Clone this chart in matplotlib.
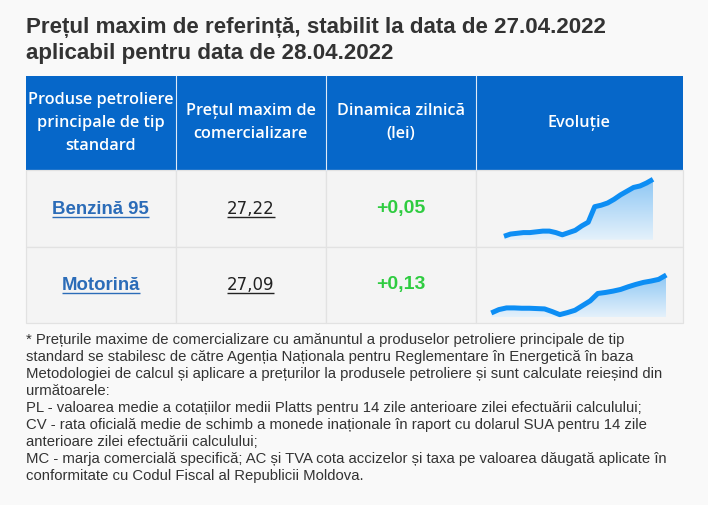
import matplotlib
matplotlib.use("Agg")
import matplotlib.pyplot as plt
import numpy as np
from matplotlib.patches import Rectangle
from matplotlib.colors import LinearSegmentedColormap

# data
title_lines = ["Prețul maxim de referință, stabilit la data de 27.04.2022",
               "aplicabil pentru data de 28.04.2022"]
headers = [["Produse petroliere", "principale de tip", "standard"],
           ["Prețul maxim de", "comercializare"],
           ["Dinamica zilnică", "(lei)"],
           ["Evoluție"]]
products = ["Benzină 95", "Motorină"]
prices = ["27,22", "27,09"]
changes = ["+0,05", "+0,13"]
benzina_hist = [26.45, 26.48, 26.49, 26.50, 26.50, 26.51, 26.52, 26.52, 26.50, 26.47,
                26.50, 26.53, 26.59, 26.64, 26.85, 26.87, 26.90, 26.95, 27.01, 27.06,
                27.11, 27.13, 27.17, 27.22]
motorina_hist = [25.96, 26.06, 26.11, 26.11, 26.10, 26.10, 26.09, 26.08, 26.00, 25.91,
                 25.97, 26.04, 26.18, 26.32, 26.54, 26.57, 26.61, 26.66, 26.74, 26.81,
                 26.87, 26.91, 26.96, 27.09]
footnote = [
    "* Prețurile maxime de comercializare cu amănuntul a produselor petroliere principale de tip",
    "standard se stabilesc de către Agenția Naționala pentru Reglementare în Energetică în baza",
    "Metodologiei de calcul și aplicare a prețurilor la produsele petroliere și sunt calculate reieșind din",
    "următoarele:",
    "PL - valoarea medie a cotațiilor medii Platts pentru 14 zile anterioare zilei efectuării calculului;",
    "CV - rata oficială medie de schimb a monede inaționale în raport cu dolarul SUA pentru 14 zile",
    "anterioare zilei efectuării calculului;",
    "MC - marja comercială specifică; AC și TVA cota accizelor și taxa pe valoarea dăugată aplicate în",
    "conformitate cu Codul Fiscal al Republicii Moldova.",
]

W, H = 708, 505
fig = plt.figure(figsize=(W / 100, H / 100), dpi=100, facecolor="#f9f9f9")
ax = fig.add_axes([0, 0, 1, 1])
ax.set_xlim(0, W)
ax.set_ylim(H, 0)
ax.axis("off")
renderer = fig.canvas.get_renderer()


def put(x, y, s, width=None, size=10, **kw):
    t = ax.text(x, y, s, fontsize=size, **kw)
    if width:
        w = t.get_window_extent(renderer).width
        t.set_fontsize(size * width / w)
    return t


def underline(t, dy, color):
    bb = t.get_window_extent(renderer)
    inv = ax.transData.inverted()
    (x0, _), (x1, _) = inv.transform([(bb.x0, bb.y0), (bb.x1, bb.y0)])
    y = t.get_position()[1] + dy
    ax.plot([x0, x1], [y, y], color=color, lw=1.0, solid_capstyle="butt")


# title
t = put(26, 28, title_lines[0], width=583, family="Liberation Sans",
        weight="bold", color="#333333", va="center")
tsize = t.get_fontsize()
put(26, 53, title_lines[1], size=tsize, family="Liberation Sans",
    weight="bold", color="#333333", va="center")

# table geometry
cols = [26, 175.7, 325.7, 475.7, 683]
rows = [76, 170, 247, 323]
head_bg = "#0667c9"
cell_bg = "#f4f4f4"
grid_c = "#e2e2e2"

ax.add_patch(Rectangle((cols[0], rows[0]), cols[-1] - cols[0], rows[1] - rows[0],
                       facecolor=head_bg, edgecolor="none"))
for c in cols[1:-1]:
    ax.plot([c, c], [rows[0], rows[1]], color="#dfe9f6", lw=0.8)
for r in range(2):
    for c in range(4):
        ax.add_patch(Rectangle((cols[c], rows[r + 1]), cols[c + 1] - cols[c],
                               rows[r + 2] - rows[r + 1], facecolor=cell_bg,
                               edgecolor=grid_c, lw=0.9))

# header text
centers = [(cols[i] + cols[i + 1]) / 2 for i in range(4)]
hfont = dict(family="Open Sans", weight="semibold", color="white", ha="center", va="center")
ht = put(centers[0], 99.5, headers[0][0], width=146, **hfont)
hsize = ht.get_fontsize()
line_h = 23.3
for i, lines in enumerate(headers):
    n = len(lines)
    mid = 122.7
    for j, s in enumerate(lines):
        if i == 0 and j == 0:
            continue
        put(centers[i], mid + (j - (n - 1) / 2) * line_h, s, size=hsize, **hfont)

# body rows
row_y = [209, 285]
psize = None
for r in range(2):
    kw = dict(family="Liberation Sans", weight="bold", color="#2b6cb8", ha="center", va="center")
    if psize is None:
        t = put(centers[0], row_y[r], products[r], width=97.6, **kw)
        psize = t.get_fontsize()
    else:
        t = put(centers[0], row_y[r], products[r], size=psize, **kw)
    underline(t, 8, "#2b6cb8")

    t = put(centers[1], row_y[r], prices[r], size=psize * 1.02, family="DejaVu Sans",
            color="#222222", ha="center", va="center")
    if r == 0:
        t.set_fontsize(t.get_fontsize() * 47.3 / t.get_window_extent(renderer).width)
        prsize = t.get_fontsize()
    else:
        t.set_fontsize(prsize)
    underline(t, 8, "#222222")

    put(centers[2], row_y[r], changes[r], size=psize * 1.04, family="Liberation Sans",
        weight="bold", color="#2ecc40", ha="center", va="center")

# sparklines
grad_cmap = LinearSegmentedColormap.from_list("g", ["#e4f1fb", "#8ec7f4"])
spark = [(benzina_hist, 504, 653, 179.3, 239.7),
         (motorina_hist, 491.3, 666.3, 275, 317)]
for vals, x0, x1, ytop, ybot in spark:
    sax = fig.add_axes([x0 / W, 1 - ybot / H, (x1 - x0) / W, (ybot - ytop) / H])
    sax.axis("off")
    vals = np.array(vals)
    xs = np.arange(len(vals))
    lo, hi = vals.min(), vals.max()
    base = lo - 0.06 * (hi - lo)
    sax.set_xlim(0, len(vals) - 1)
    sax.set_ylim(base, hi)
    poly = sax.fill_between(xs, vals, base, color="none")
    grad = np.linspace(0, 1, 100).reshape(-1, 1)
    im = sax.imshow(grad, extent=[0, len(vals) - 1, base, hi], origin="lower",
                    aspect="auto", cmap=grad_cmap, zorder=1)
    im.set_clip_path(poly.get_paths()[0], transform=sax.transData)
    sax.plot(xs, vals, color="#0d8ef4", lw=3.6, solid_joinstyle="round",
             solid_capstyle="butt", clip_on=False, zorder=2)

# footnote
fkw = dict(family="Liberation Sans", color="#333333", va="center")
ft = put(26, 340, footnote[0], width=601, **fkw)
fsize = ft.get_fontsize()
for i, s in enumerate(footnote[1:], start=1):
    put(26, 340 + i * 16.95, s, size=fsize, **fkw)

fig.savefig("out.png", dpi=100, facecolor=fig.get_facecolor())
